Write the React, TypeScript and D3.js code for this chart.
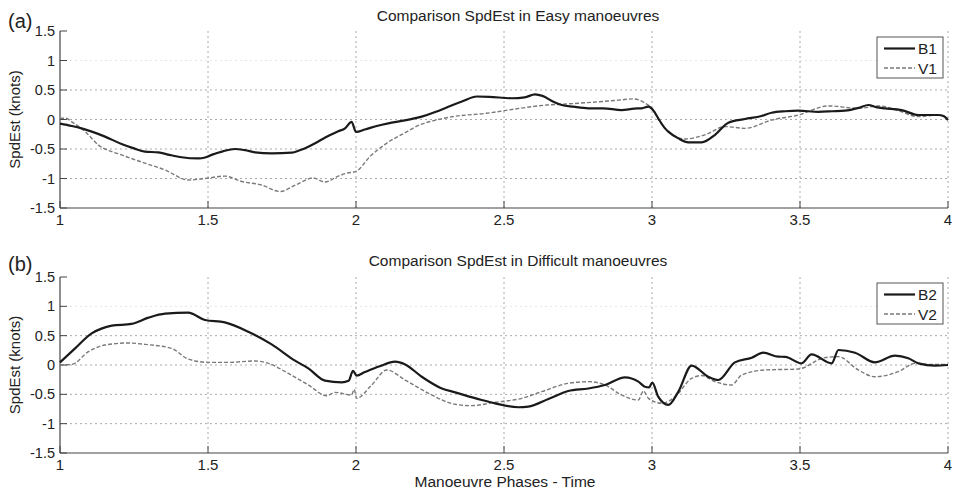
import React from "react";
import * as d3 from "d3";

// ---------- data ----------
const xTicks = [1, 1.5, 2, 2.5, 3, 3.5, 4];
const yTicks = [-1.5, -1, -0.5, 0, 0.5, 1, 1.5];
const yTickLabels = ["-1.5", "-1", "-0.5", "0", "0.5", "1", "1.5"];
const xTickLabels = ["1", "1.5", "2", "2.5", "3", "3.5", "4"];

const b1Time = [1.0, 1.04, 1.073, 1.11, 1.152, 1.208, 1.25, 1.287, 1.332, 1.37, 1.411, 1.467, 1.49, 1.512, 1.55, 1.591, 1.625, 1.659, 1.715, 1.783, 1.81, 1.839, 1.87, 1.906, 1.94, 1.963, 1.985, 2.0, 2.03, 2.07, 2.109, 2.16, 2.222, 2.27, 2.312, 2.36, 2.408, 2.45, 2.526, 2.57, 2.605, 2.63, 2.667, 2.695, 2.734, 2.785, 2.835, 2.897, 2.94, 2.965, 2.988, 3.005, 3.021, 3.044, 3.055, 3.089, 3.123, 3.168, 3.213, 3.258, 3.314, 3.37, 3.404, 3.45, 3.494, 3.562, 3.61, 3.652, 3.7, 3.731, 3.76, 3.787, 3.843, 3.9, 3.967, 3.985, 4.0];
const b1Speed = [-0.07, -0.11, -0.15, -0.21, -0.29, -0.415, -0.49, -0.545, -0.556, -0.6, -0.64, -0.66, -0.645, -0.6, -0.54, -0.5, -0.52, -0.556, -0.573, -0.562, -0.52, -0.46, -0.38, -0.28, -0.2, -0.15, -0.04, -0.21, -0.17, -0.11, -0.065, -0.02, 0.048, 0.13, 0.217, 0.31, 0.39, 0.385, 0.36, 0.375, 0.427, 0.4, 0.3, 0.246, 0.217, 0.19, 0.19, 0.16, 0.185, 0.19, 0.217, 0.15, 0.02, -0.15, -0.206, -0.32, -0.387, -0.387, -0.26, -0.054, 0.008, 0.06, 0.115, 0.14, 0.15, 0.13, 0.14, 0.15, 0.2, 0.246, 0.205, 0.19, 0.16, 0.076, 0.076, 0.06, -0.01];

const v1Time = [1.0, 1.02, 1.04, 1.084, 1.129, 1.208, 1.287, 1.355, 1.433, 1.49, 1.557, 1.614, 1.681, 1.743, 1.8, 1.855, 1.895, 1.94, 1.969, 2.0, 2.047, 2.104, 2.16, 2.216, 2.27, 2.329, 2.44, 2.554, 2.644, 2.7, 2.779, 2.892, 2.937, 2.976, 3.0, 3.03, 3.089, 3.111, 3.179, 3.247, 3.314, 3.404, 3.494, 3.596, 3.697, 3.765, 3.832, 3.9, 3.967, 4.0];
const v1Speed = [0.02, 0.02, -0.04, -0.2, -0.43, -0.6, -0.74, -0.855, -1.025, -1.0, -0.96, -1.05, -1.11, -1.22, -1.1, -0.99, -1.06, -0.96, -0.91, -0.88, -0.63, -0.4, -0.24, -0.09, -0.01, 0.05, 0.105, 0.19, 0.245, 0.26, 0.285, 0.33, 0.35, 0.28, 0.19, -0.06, -0.31, -0.33, -0.26, -0.12, -0.15, -0.01, 0.076, 0.23, 0.19, 0.23, 0.15, 0.048, 0.076, 0.02];

const b2Time = [1.0, 1.051, 1.107, 1.14, 1.175, 1.242, 1.299, 1.355, 1.433, 1.49, 1.557, 1.636, 1.715, 1.794, 1.839, 1.895, 1.952, 1.975, 1.99, 2.002, 2.03, 2.08, 2.132, 2.166, 2.222, 2.29, 2.335, 2.425, 2.47, 2.548, 2.582, 2.65, 2.717, 2.785, 2.841, 2.909, 2.954, 2.976, 2.99, 3.001, 3.021, 3.055, 3.089, 3.134, 3.19, 3.224, 3.28, 3.337, 3.376, 3.427, 3.45, 3.505, 3.539, 3.607, 3.63, 3.686, 3.753, 3.821, 3.866, 3.9, 3.956, 4.0];
const b2Speed = [0.045, 0.284, 0.54, 0.62, 0.67, 0.7, 0.807, 0.875, 0.892, 0.767, 0.727, 0.568, 0.352, 0.074, -0.057, -0.267, -0.295, -0.27, -0.1, -0.18, -0.12, -0.02, 0.057, 0.01, -0.2, -0.4, -0.466, -0.597, -0.653, -0.72, -0.71, -0.58, -0.443, -0.4, -0.34, -0.21, -0.284, -0.37, -0.38, -0.3, -0.54, -0.68, -0.455, -0.01, -0.2, -0.256, 0.045, 0.125, 0.21, 0.142, 0.14, 0.028, 0.18, 0.028, 0.256, 0.21, 0.045, 0.16, 0.114, 0.028, -0.01, 0.0];

const v2Time = [1.0, 1.04, 1.096, 1.152, 1.231, 1.287, 1.377, 1.433, 1.501, 1.569, 1.659, 1.704, 1.771, 1.839, 1.901, 1.929, 1.985, 1.994, 2.002, 2.053, 2.104, 2.166, 2.245, 2.335, 2.39, 2.47, 2.56, 2.627, 2.717, 2.785, 2.841, 2.897, 2.954, 2.971, 2.988, 3.033, 3.078, 3.134, 3.168, 3.213, 3.269, 3.303, 3.382, 3.494, 3.584, 3.63, 3.697, 3.753, 3.832, 3.889, 3.945, 4.0];
const v2Speed = [0.0, 0.01, 0.227, 0.34, 0.375, 0.352, 0.284, 0.102, 0.045, 0.045, 0.068, 0.028, -0.142, -0.34, -0.523, -0.466, -0.511, -0.415, -0.568, -0.34, -0.085, -0.256, -0.483, -0.67, -0.693, -0.636, -0.568, -0.455, -0.3125, -0.284, -0.34, -0.511, -0.597, -0.443, -0.568, -0.653, -0.54, -0.227, -0.18, -0.284, -0.34, -0.17, -0.085, -0.068, 0.125, 0.142, -0.085, -0.2, -0.114, 0.028, 0.01, 0.01];

const panelTitles = ["Comparison SpdEst in Easy manoeuvres", "Comparison SpdEst in Difficult manoeuvres"];
const panelTags = ["(a)", "(b)"];
const legendNames = [["B1", "V1"], ["B2", "V2"]];
const yLabel = "SpdEst (knots)";
const xLabel = "Manoeuvre Phases - Time";

// ---------- layout ----------
const W = 959, H = 494;
const X0 = 60, X1 = 948;
const FONT = "'Liberation Sans', Arial, Helvetica, sans-serif";
const panels = [
  { top: 31, bottom: 208, b: [b1Time, b1Speed], v: [v1Time, v1Speed], titleY: 21, tagY: 28, legTop: 37 },
  { top: 277, bottom: 453, b: [b2Time, b2Speed], v: [v2Time, v2Speed], titleY: 266, tagY: 271, legTop: 283 },
];

const x = d3.scaleLinear().domain([1, 4]).range([X0, X1]);

function Panel({ p, idx }: { p: any; idx: number }) {
  const y = d3.scaleLinear().domain([-1.5, 1.5]).range([p.bottom, p.top]);
  const line = d3
    .line<[number, number]>()
    .x((d) => x(d[0]))
    .y((d) => y(d[1]))
    .curve(d3.curveMonotoneX);
  const bPts = p.b[0].map((t: number, i: number) => [t, p.b[1][i]] as [number, number]);
  const vPts = p.v[0].map((t: number, i: number) => [t, p.v[1][i]] as [number, number]);
  const midY = (p.top + p.bottom) / 2;
  const legX = 877, legW = 66, legH = 41;
  const r1 = p.legTop + 11.5, r2 = p.legTop + 31;
  return (
    <g>
      {/* grid */}
      {xTicks.filter((t) => t > 1).map((t) => (
        <line key={"gx" + t} x1={x(t)} x2={x(t)} y1={p.top} y2={p.bottom} stroke="#aaa" strokeWidth={1} strokeDasharray="2,3" />
      ))}
      {yTicks.filter((t) => t > -1.5 && t < 1.5).map((t) => (
        <line key={"gy" + t} x1={X0} x2={X1} y1={y(t)} y2={y(t)} stroke={t === 1 ? "#e6e6e6" : "#aaa"} strokeWidth={1} strokeDasharray="2,3" />
      ))}
      {/* axes */}
      <line x1={X0} x2={X0} y1={p.top} y2={p.bottom} stroke="#444" strokeWidth={1.2} />
      <line x1={X0} x2={X1} y1={p.bottom} y2={p.bottom} stroke="#444" strokeWidth={1.2} />
      {xTicks.map((t, i) => (
        <g key={"tx" + t}>
          <line x1={x(t)} x2={x(t)} y1={p.bottom} y2={p.bottom - 7} stroke="#444" strokeWidth={1} />
          <text x={x(t)} y={p.bottom + 16.5} textAnchor="middle" fontSize={15} fill="#222" fontFamily={FONT}>{xTickLabels[i]}</text>
        </g>
      ))}
      {yTicks.map((t, i) => (
        <g key={"ty" + t}>
          <line x1={X0} x2={X0 + 7} y1={y(t)} y2={y(t)} stroke="#444" strokeWidth={1} />
          <text x={X0 - 5} y={y(t) + 5} textAnchor="end" fontSize={14.5} fill="#222" fontFamily={FONT}>{yTickLabels[i]}</text>
        </g>
      ))}
      {/* series */}
      <path d={line(vPts) || ""} fill="none" stroke="#7a7a7a" strokeWidth={1.4} strokeDasharray="4,2" />
      <path d={line(bPts) || ""} fill="none" stroke="#1a1a1a" strokeWidth={2.2} strokeLinejoin="round" />
      {/* labels */}
      <text x={518} y={p.titleY} textAnchor="middle" fontSize={15.5} fill="#222" fontFamily={FONT}>{panelTitles[idx]}</text>
      <text x={8} y={p.tagY} fontSize={20} fill="#222" fontFamily={FONT}>{panelTags[idx]}</text>
      <text transform={`translate(${20},${midY}) rotate(-90)`} textAnchor="middle" fontSize={15} fill="#222" fontFamily={FONT}>{yLabel}</text>
      {/* legend */}
      <rect x={legX} y={p.legTop} width={legW} height={legH} fill="#fff" stroke="#555" strokeWidth={1} />
      <line x1={884} x2={915} y1={r1} y2={r1} stroke="#1a1a1a" strokeWidth={2.2} />
      <line x1={884} x2={915} y1={r2} y2={r2} stroke="#7a7a7a" strokeWidth={1.4} strokeDasharray="4,2" />
      <text x={918} y={r1 + 5.5} fontSize={15.5} fill="#222" fontFamily={FONT}>{legendNames[idx][0]}</text>
      <text x={918} y={r2 + 5.5} fontSize={15.5} fill="#222" fontFamily={FONT}>{legendNames[idx][1]}</text>
    </g>
  );
}

export default function App() {
  return (
    <svg width={W} height={H} style={{ position: "absolute", left: 0, top: 0, background: "#fff" }}>
      <rect width={W} height={H} fill="#fff" />
      {panels.map((p, i) => (
        <Panel key={i} p={p} idx={i} />
      ))}
      <text x={505} y={487} textAnchor="middle" fontSize={15.5} fill="#222" fontFamily={FONT}>{xLabel}</text>
    </svg>
  );
}
